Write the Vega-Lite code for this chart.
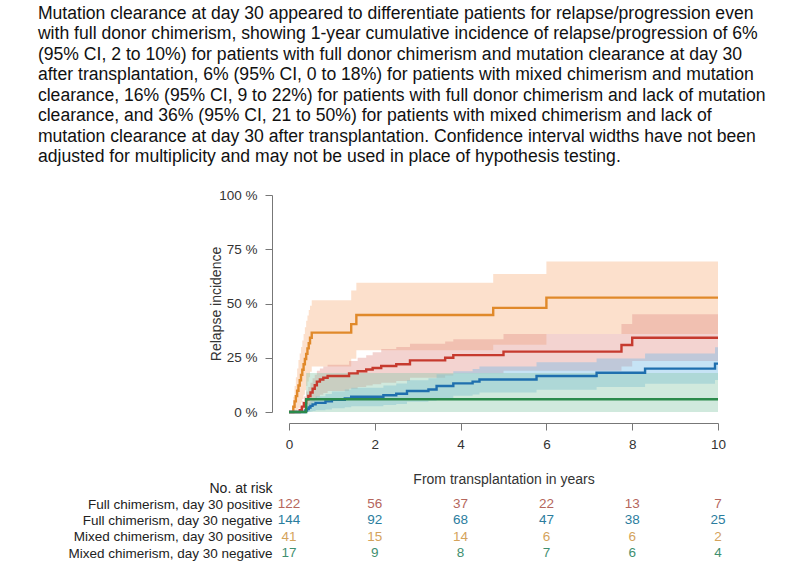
{
  "$schema": "https://vega.github.io/schema/vega-lite/v6.json",
  "background": "white",
  "padding": {"left": 37, "top": 4, "right": 5, "bottom": 5},
  "title": {
    "text": [
      "Mutation clearance at day 30 appeared to differentiate patients for relapse/progression even",
      "with full donor chimerism, showing 1-year cumulative incidence of relapse/progression of 6%",
      "(95% CI, 2 to 10%) for patients with full donor chimerism and mutation clearance at day 30",
      "after transplantation, 6% (95% CI, 0 to 18%) for patients with mixed chimerism and mutation",
      "clearance, 16% (95% CI, 9 to 22%) for patients with full donor chimerism and lack of mutation",
      "clearance, and 36% (95% CI, 21 to 50%) for patients with mixed chimerism and lack of",
      "mutation clearance at day 30 after transplantation. Confidence interval widths have not been",
      "adjusted for multiplicity and may not be used in place of hypothesis testing."
    ],
    "anchor": "start",
    "frame": "bounds",
    "font": "Liberation Sans",
    "fontSize": 17.6,
    "fontWeight": "normal",
    "lineHeight": 20.5,
    "color": "#111",
    "offset": 22,
    "dx": -30
  },
  "datasets": {
    "curves": [
      {"g": "Mixed chimerism, day 30 positive", "t": 0, "est": 0, "lo": 0, "hi": 0},
      {"g": "Mixed chimerism, day 30 positive", "t": 0.10, "est": 0.024, "lo": 0, "hi": 0.07},
      {"g": "Mixed chimerism, day 30 positive", "t": 0.13, "est": 0.049, "lo": 0, "hi": 0.12},
      {"g": "Mixed chimerism, day 30 positive", "t": 0.16, "est": 0.073, "lo": 0.005, "hi": 0.16},
      {"g": "Mixed chimerism, day 30 positive", "t": 0.19, "est": 0.098, "lo": 0.01, "hi": 0.2},
      {"g": "Mixed chimerism, day 30 positive", "t": 0.22, "est": 0.122, "lo": 0.02, "hi": 0.24},
      {"g": "Mixed chimerism, day 30 positive", "t": 0.25, "est": 0.146, "lo": 0.03, "hi": 0.27},
      {"g": "Mixed chimerism, day 30 positive", "t": 0.28, "est": 0.171, "lo": 0.045, "hi": 0.3},
      {"g": "Mixed chimerism, day 30 positive", "t": 0.31, "est": 0.195, "lo": 0.06, "hi": 0.33},
      {"g": "Mixed chimerism, day 30 positive", "t": 0.34, "est": 0.22, "lo": 0.08, "hi": 0.36},
      {"g": "Mixed chimerism, day 30 positive", "t": 0.37, "est": 0.244, "lo": 0.1, "hi": 0.39},
      {"g": "Mixed chimerism, day 30 positive", "t": 0.40, "est": 0.268, "lo": 0.12, "hi": 0.42},
      {"g": "Mixed chimerism, day 30 positive", "t": 0.43, "est": 0.293, "lo": 0.14, "hi": 0.445},
      {"g": "Mixed chimerism, day 30 positive", "t": 0.46, "est": 0.317, "lo": 0.16, "hi": 0.47},
      {"g": "Mixed chimerism, day 30 positive", "t": 0.49, "est": 0.342, "lo": 0.185, "hi": 0.49},
      {"g": "Mixed chimerism, day 30 positive", "t": 0.53, "est": 0.366, "lo": 0.21, "hi": 0.515},
      {"g": "Mixed chimerism, day 30 positive", "t": 1.45, "est": 0.405, "lo": 0.245, "hi": 0.56},
      {"g": "Mixed chimerism, day 30 positive", "t": 1.57, "est": 0.447, "lo": 0.285, "hi": 0.596},
      {"g": "Mixed chimerism, day 30 positive", "t": 4.76, "est": 0.48, "lo": 0.31, "hi": 0.636},
      {"g": "Mixed chimerism, day 30 positive", "t": 6.0, "est": 0.527, "lo": 0.36, "hi": 0.693},
      {"g": "Mixed chimerism, day 30 positive", "t": 10, "est": 0.527, "lo": 0.36, "hi": 0.693},

      {"g": "Full chimerism, day 30 positive", "t": 0, "est": 0, "lo": 0, "hi": 0},
      {"g": "Full chimerism, day 30 positive", "t": 0.25, "est": 0.008, "lo": 0, "hi": 0.025},
      {"g": "Full chimerism, day 30 positive", "t": 0.3, "est": 0.025, "lo": 0, "hi": 0.05},
      {"g": "Full chimerism, day 30 positive", "t": 0.35, "est": 0.041, "lo": 0.005, "hi": 0.072},
      {"g": "Full chimerism, day 30 positive", "t": 0.4, "est": 0.058, "lo": 0.015, "hi": 0.095},
      {"g": "Full chimerism, day 30 positive", "t": 0.45, "est": 0.074, "lo": 0.025, "hi": 0.115},
      {"g": "Full chimerism, day 30 positive", "t": 0.5, "est": 0.09, "lo": 0.035, "hi": 0.135},
      {"g": "Full chimerism, day 30 positive", "t": 0.55, "est": 0.107, "lo": 0.045, "hi": 0.155},
      {"g": "Full chimerism, day 30 positive", "t": 0.6, "est": 0.123, "lo": 0.058, "hi": 0.172},
      {"g": "Full chimerism, day 30 positive", "t": 0.65, "est": 0.14, "lo": 0.07, "hi": 0.19},
      {"g": "Full chimerism, day 30 positive", "t": 0.72, "est": 0.15, "lo": 0.08, "hi": 0.2},
      {"g": "Full chimerism, day 30 positive", "t": 0.8, "est": 0.158, "lo": 0.088, "hi": 0.21},
      {"g": "Full chimerism, day 30 positive", "t": 0.9, "est": 0.166, "lo": 0.097, "hi": 0.218},
      {"g": "Full chimerism, day 30 positive", "t": 1.4, "est": 0.178, "lo": 0.107, "hi": 0.235},
      {"g": "Full chimerism, day 30 positive", "t": 1.6, "est": 0.188, "lo": 0.115, "hi": 0.25},
      {"g": "Full chimerism, day 30 positive", "t": 1.8, "est": 0.196, "lo": 0.122, "hi": 0.262},
      {"g": "Full chimerism, day 30 positive", "t": 1.95, "est": 0.203, "lo": 0.128, "hi": 0.275},
      {"g": "Full chimerism, day 30 positive", "t": 2.15, "est": 0.212, "lo": 0.135, "hi": 0.29},
      {"g": "Full chimerism, day 30 positive", "t": 2.5, "est": 0.22, "lo": 0.143, "hi": 0.3},
      {"g": "Full chimerism, day 30 positive", "t": 2.82, "est": 0.238, "lo": 0.158, "hi": 0.315},
      {"g": "Full chimerism, day 30 positive", "t": 3.64, "est": 0.25, "lo": 0.168, "hi": 0.325},
      {"g": "Full chimerism, day 30 positive", "t": 3.83, "est": 0.262, "lo": 0.178, "hi": 0.335},
      {"g": "Full chimerism, day 30 positive", "t": 5.0, "est": 0.278, "lo": 0.19, "hi": 0.36},
      {"g": "Full chimerism, day 30 positive", "t": 7.75, "est": 0.309, "lo": 0.21, "hi": 0.405},
      {"g": "Full chimerism, day 30 positive", "t": 8.0, "est": 0.342, "lo": 0.235, "hi": 0.45},
      {"g": "Full chimerism, day 30 positive", "t": 10, "est": 0.342, "lo": 0.235, "hi": 0.45},

      {"g": "Full chimerism, day 30 negative", "t": 0, "est": 0, "lo": 0, "hi": 0},
      {"g": "Full chimerism, day 30 negative", "t": 0.38, "est": 0.007, "lo": 0, "hi": 0.02},
      {"g": "Full chimerism, day 30 negative", "t": 0.42, "est": 0.014, "lo": 0, "hi": 0.033},
      {"g": "Full chimerism, day 30 negative", "t": 0.46, "est": 0.021, "lo": 0, "hi": 0.043},
      {"g": "Full chimerism, day 30 negative", "t": 0.5, "est": 0.028, "lo": 0.002, "hi": 0.053},
      {"g": "Full chimerism, day 30 negative", "t": 0.55, "est": 0.035, "lo": 0.005, "hi": 0.063},
      {"g": "Full chimerism, day 30 negative", "t": 0.62, "est": 0.042, "lo": 0.008, "hi": 0.073},
      {"g": "Full chimerism, day 30 negative", "t": 0.85, "est": 0.049, "lo": 0.012, "hi": 0.083},
      {"g": "Full chimerism, day 30 negative", "t": 1.0, "est": 0.056, "lo": 0.017, "hi": 0.095},
      {"g": "Full chimerism, day 30 negative", "t": 1.3, "est": 0.063, "lo": 0.022, "hi": 0.104},
      {"g": "Full chimerism, day 30 negative", "t": 1.45, "est": 0.07, "lo": 0.027, "hi": 0.112},
      {"g": "Full chimerism, day 30 negative", "t": 2.2, "est": 0.077, "lo": 0.032, "hi": 0.122},
      {"g": "Full chimerism, day 30 negative", "t": 2.5, "est": 0.084, "lo": 0.037, "hi": 0.131},
      {"g": "Full chimerism, day 30 negative", "t": 2.75, "est": 0.097, "lo": 0.047, "hi": 0.146},
      {"g": "Full chimerism, day 30 negative", "t": 3.25, "est": 0.104, "lo": 0.052, "hi": 0.155},
      {"g": "Full chimerism, day 30 negative", "t": 3.44, "est": 0.12, "lo": 0.065, "hi": 0.174},
      {"g": "Full chimerism, day 30 negative", "t": 3.83, "est": 0.132, "lo": 0.075, "hi": 0.188},
      {"g": "Full chimerism, day 30 negative", "t": 4.28, "est": 0.14, "lo": 0.081, "hi": 0.198},
      {"g": "Full chimerism, day 30 negative", "t": 4.44, "est": 0.15, "lo": 0.09, "hi": 0.21},
      {"g": "Full chimerism, day 30 negative", "t": 5.77, "est": 0.166, "lo": 0.103, "hi": 0.229},
      {"g": "Full chimerism, day 30 negative", "t": 7.17, "est": 0.181, "lo": 0.115, "hi": 0.247},
      {"g": "Full chimerism, day 30 negative", "t": 8.3, "est": 0.2, "lo": 0.13, "hi": 0.27},
      {"g": "Full chimerism, day 30 negative", "t": 9.93, "est": 0.223, "lo": 0.148, "hi": 0.298},
      {"g": "Full chimerism, day 30 negative", "t": 10, "est": 0.223, "lo": 0.148, "hi": 0.298},

      {"g": "Mixed chimerism, day 30 negative", "t": 0, "est": 0, "lo": 0, "hi": 0},
      {"g": "Mixed chimerism, day 30 negative", "t": 0.4, "est": 0.059, "lo": 0, "hi": 0.18},
      {"g": "Mixed chimerism, day 30 negative", "t": 10, "est": 0.059, "lo": 0, "hi": 0.18}
    ],
    "risk": [
      {"g": "Full chimerism, day 30 positive", "t": 0, "n": 122},
      {"g": "Full chimerism, day 30 positive", "t": 2, "n": 56},
      {"g": "Full chimerism, day 30 positive", "t": 4, "n": 37},
      {"g": "Full chimerism, day 30 positive", "t": 6, "n": 22},
      {"g": "Full chimerism, day 30 positive", "t": 8, "n": 13},
      {"g": "Full chimerism, day 30 positive", "t": 10, "n": 7},
      {"g": "Full chimerism, day 30 negative", "t": 0, "n": 144},
      {"g": "Full chimerism, day 30 negative", "t": 2, "n": 92},
      {"g": "Full chimerism, day 30 negative", "t": 4, "n": 68},
      {"g": "Full chimerism, day 30 negative", "t": 6, "n": 47},
      {"g": "Full chimerism, day 30 negative", "t": 8, "n": 38},
      {"g": "Full chimerism, day 30 negative", "t": 10, "n": 25},
      {"g": "Mixed chimerism, day 30 positive", "t": 0, "n": 41},
      {"g": "Mixed chimerism, day 30 positive", "t": 2, "n": 15},
      {"g": "Mixed chimerism, day 30 positive", "t": 4, "n": 14},
      {"g": "Mixed chimerism, day 30 positive", "t": 6, "n": 6},
      {"g": "Mixed chimerism, day 30 positive", "t": 8, "n": 6},
      {"g": "Mixed chimerism, day 30 positive", "t": 10, "n": 2},
      {"g": "Mixed chimerism, day 30 negative", "t": 0, "n": 17},
      {"g": "Mixed chimerism, day 30 negative", "t": 2, "n": 9},
      {"g": "Mixed chimerism, day 30 negative", "t": 4, "n": 8},
      {"g": "Mixed chimerism, day 30 negative", "t": 6, "n": 7},
      {"g": "Mixed chimerism, day 30 negative", "t": 8, "n": 6},
      {"g": "Mixed chimerism, day 30 negative", "t": 10, "n": 4}
    ]
  },
  "bounds": "flush",
  "spacing": 84,
  "vconcat": [
    {
      "width": 429,
      "height": 217,
      "data": {"name": "curves"},
      "encoding": {
        "x": {
          "field": "t",
          "type": "quantitative",
          "scale": {"domain": [0, 10], "nice": false, "zero": false},
          "axis": {
            "values": [0, 2, 4, 6, 8, 10],
            "title": "From transplantation in years",
            "offset": 11,
            "tickSize": 7,
            "labelPadding": 7,
            "labelFlush": false,
            "labelFontSize": 13.5,
            "titleFontSize": 14,
            "titlePadding": 22
          }
        }
      },
      "layer": [
        {
          "mark": {"type": "area", "interpolate": "step-after", "fillOpacity": 0.4},
          "encoding": {
            "y": {
              "field": "lo",
              "type": "quantitative",
              "stack": null,
              "scale": {"domain": [0, 1]},
              "axis": {
                "values": [0, 0.25, 0.5, 0.75, 1],
                "labelExpr": "format(datum.value * 100, 'd') + ' %'",
                "title": "Relapse incidence",
                "offset": 17,
                "tickSize": 7,
                "labelPadding": 8,
                "labelFontSize": 13.5,
                "titleFontSize": 14,
                "titlePadding": -5
              }
            },
            "y2": {"field": "hi"},
            "fill": {
              "field": "g",
              "type": "nominal",
              "scale": {
                "domain": ["Mixed chimerism, day 30 positive", "Full chimerism, day 30 positive", "Full chimerism, day 30 negative", "Mixed chimerism, day 30 negative"],
                "range": ["#f7b27f", "#e19189", "#70b9e6", "#8ac8aa"]
              },
              "legend": null
            }
          }
        },
        {
          "mark": {"type": "line", "interpolate": "step-after", "strokeWidth": 2.4},
          "encoding": {
            "y": {
              "field": "est",
              "type": "quantitative",
              "scale": {"domain": [0, 1]},
              "axis": {
                "values": [0, 0.25, 0.5, 0.75, 1],
                "labelExpr": "format(datum.value * 100, 'd') + ' %'",
                "title": "Relapse incidence",
                "offset": 17,
                "tickSize": 7,
                "labelPadding": 8,
                "labelFontSize": 13.5,
                "titleFontSize": 14,
                "titlePadding": -5
              }
            },
            "stroke": {
              "field": "g",
              "type": "nominal",
              "scale": {
                "domain": ["Mixed chimerism, day 30 positive", "Full chimerism, day 30 positive", "Full chimerism, day 30 negative", "Mixed chimerism, day 30 negative"],
                "range": ["#e0892a", "#c63a2e", "#1f6fae", "#2b8a4b"]
              },
              "legend": null
            }
          }
        }
      ]
    },
    {
      "width": 429,
      "height": 65.3,
      "data": {"name": "risk"},
      "mark": {"type": "text", "fontSize": 13.5, "font": "Liberation Sans"},
      "encoding": {
        "x": {
          "field": "t",
          "type": "quantitative",
          "scale": {"domain": [0, 10], "nice": false, "zero": false},
          "axis": null
        },
        "y": {
          "field": "g",
          "type": "nominal",
          "sort": ["Full chimerism, day 30 positive", "Full chimerism, day 30 negative", "Mixed chimerism, day 30 positive", "Mixed chimerism, day 30 negative"],
          "scale": {"paddingInner": 0, "paddingOuter": 0},
          "axis": {
            "title": "No. at risk",
            "titleAngle": 0,
            "titleAlign": "right",
            "titleBaseline": "middle",
            "titleX": -17,
            "titleY": -8,
            "titleFont": "Liberation Sans",
            "titleFontSize": 14,
            "titleLimit": 0,
            "titleColor": "#222",
            "domain": false,
            "ticks": false,
            "labelPadding": 17,
            "labelFontSize": 13.5,
            "labelColor": "#222",
            "labelLimit": 0
          }
        },
        "text": {"field": "n", "type": "quantitative"},
        "color": {
          "field": "g",
          "type": "nominal",
          "scale": {
            "domain": ["Full chimerism, day 30 positive", "Full chimerism, day 30 negative", "Mixed chimerism, day 30 positive", "Mixed chimerism, day 30 negative"],
            "range": ["#b5665c", "#2b7d9e", "#d4a35c", "#3f8f70"]
          },
          "legend": null
        }
      }
    }
  ],
  "config": {
    "view": {"stroke": null},
    "font": "Liberation Sans",
    "axis": {
      "labelFont": "Liberation Sans",
      "titleFont": "Liberation Sans",
      "titleFontWeight": "normal",
      "domainColor": "#777",
      "tickColor": "#777",
      "labelColor": "#333",
      "titleColor": "#333",
      "grid": false
    }
  }
}
